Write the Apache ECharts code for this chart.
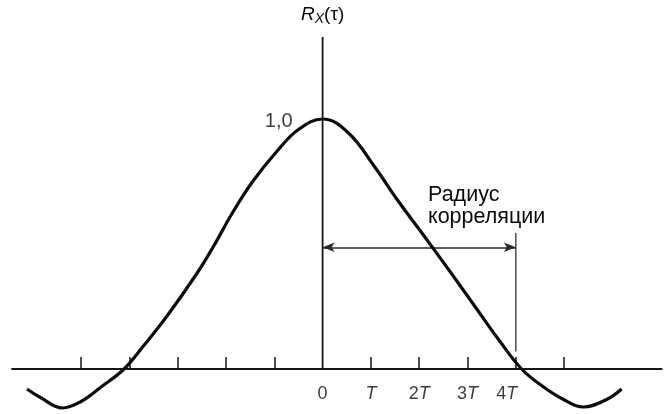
<!DOCTYPE html>
<html>
<head>
<meta charset="utf-8">
<script src="https://cdn.jsdelivr.net/npm/echarts@6/dist/echarts.min.js"></script>
<style>
  html, body { margin: 0; padding: 0; background: #fff; }
  #chart { width: 672px; height: 414px; }
</style>
</head>
<body>
<div id="chart"></div>
<script>
// Correlation function R_X(tau), tau measured in units of the step T
const tau = [-6.12, -5.85, -5.38, -5.0, -4.6, -4.11, -3.71, -3.22, -2.6, -2.26, -1.85, -1.44, -0.94, -0.5,
             0, 0.53, 1.08, 1.55, 2.12, 2.66, 3.25, 3.65, 4.12, 4.56, 4.97, 5.39, 5.88, 6.19];
const rx  = [-0.08, -0.113, -0.156, -0.13, -0.074, 0.0, 0.092, 0.212, 0.383, 0.49, 0.63, 0.752, 0.872, 0.958,
             1.0, 0.945, 0.808, 0.676, 0.527, 0.384, 0.224, 0.116, 0.0, -0.07, -0.12, -0.152, -0.122, -0.08];

// Axis ticks and labels (multiples of T)
const tickValues = [-5, -4, -3, -2, -1, 1, 2, 3, 4, 5];
const labelValues = [0, 1, 2, 3, 4];
const peakLabel = '1,0';

// Correlation radius: arrow from 0 to 4T at level R = 0.487
const radiusTau = 4;
const radiusLevel = 0.487;
const radiusMarkerTop = 0.544;
const radiusMarkerBottom = 0.07;

// Extent of the axes
const xMin = -6.43, xMax = 7.02;
const yMin = -0.18, yMax = 1.328;

const ink = '#0a0a0a';
const curveData = tau.map((t, i) => [t, rx[i]]);

function tickText(v) {
  if (v === 0) return '{n|0}';
  if (v === 1) return '{t|T}';
  if (v === 4) return '{n|4}{tl|T}';
  return '{n|' + v + '}{t|T}';
}

const chart = echarts.init(document.getElementById('chart'), null, { renderer: 'canvas' });
chart.setOption({
  backgroundColor: '#ffffff',
  animation: false,
  grid: { left: 12, right: 10.3, top: 37, bottom: 0, containLabel: false, outerBoundsMode: 'none' },
  xAxis: {
    type: 'value', min: xMin, max: xMax,
    axisLine: { show: true, onZero: true, lineStyle: { color: '#161616', width: 1.8 } },
    axisTick: { show: true, inside: true, length: 12, customValues: tickValues,
                lineStyle: { color: '#161616', width: 1.5 } },
    axisLabel: { show: false },
    splitLine: { show: false }
  },
  yAxis: {
    type: 'value', min: yMin, max: yMax,
    axisLine: { show: false, onZero: true },
    axisTick: { show: false },
    splitLine: { show: false },
    axisLabel: { show: false },
    name: '{r|R}{s|X}{p|(τ)}',
    nameLocation: 'end',
    nameGap: 11,
    nameTextStyle: {
      rich: {
        r: { fontFamily: 'Liberation Sans', fontSize: 19, fontStyle: 'italic', color: ink },
        s: { fontFamily: 'Liberation Sans', fontSize: 14, fontStyle: 'italic', color: ink, padding: [8, 0, 0, 0] },
        p: { fontFamily: 'Liberation Sans', fontSize: 19, color: ink }
      }
    }
  },
  series: [
    {
      // vertical axis line drawn from R = 0 upward
      type: 'line', silent: true, symbol: 'none',
      data: [[0, 0], [0, yMax]],
      lineStyle: { color: '#161616', width: 1.8 },
      z: 2
    },
    {
      type: 'line', name: 'R', smooth: 0.4, symbol: 'none',
      data: curveData,
      lineStyle: { color: '#0c0c0c', width: 3.2 },
      z: 5
    },
    {
      // correlation radius marker
      type: 'line', silent: true, symbol: 'none',
      data: [[radiusTau, radiusMarkerTop], [radiusTau, radiusMarkerBottom]],
      lineStyle: { color: '#555555', width: 1.6 },
      z: 3
    },
    {
      type: 'line', silent: true, symbol: 'none', data: [],
      markLine: {
        silent: true, symbol: ['arrow', 'arrow'], symbolSize: [7, 12],
        label: { show: false },
        lineStyle: { color: '#2a2a2a', width: 1.6, type: 'solid' },
        data: [[{ coord: [0, radiusLevel] }, { coord: [radiusTau, radiusLevel] }]]
      },
      z: 4
    },
    {
      // tick labels under the horizontal axis: 0, T, 2T, 3T, 4T
      type: 'scatter', silent: true, symbolSize: 0,
      data: labelValues.map(v => [v, 0]),
      label: {
        show: true, position: 'bottom', distance: 16,
        formatter: p => tickText(p.value[0]),
        rich: {
          n: { fontFamily: 'Liberation Sans', fontSize: 18, color: ink },
          t: { fontFamily: 'Liberation Sans', fontSize: 18, fontStyle: 'italic', color: ink },
          tl: { fontFamily: 'Liberation Sans', fontSize: 18, fontStyle: 'italic', color: ink, padding: [0, 18, 0, 0] }
        }
      }
    },
    {
      // value of the peak
      type: 'scatter', silent: true, symbolSize: 0,
      data: [[0, 1]],
      label: {
        show: true, position: 'left', distance: 30, offset: [0, 2],
        formatter: peakLabel,
        fontFamily: 'Liberation Sans', fontSize: 20, color: ink
      }
    }
  ],
  graphic: [
    {
      type: 'text', left: 428, top: 184,
      style: {
        text: 'Радиус\nкорреляции',
        fontFamily: 'Liberation Sans', fontSize: 21.5, lineHeight: 22,
        fill: ink
      }
    }
  ]
});
</script>
</body>
</html>
